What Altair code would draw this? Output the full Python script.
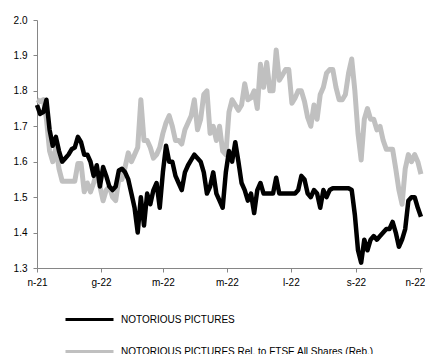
import altair as alt
import pandas as pd

START = "2021-11-01"
STEP = "3D"
SERIES = ["NOTORIOUS PICTURES", "NOTORIOUS PICTURES Rel. to FTSE All Shares (Reb.)"]
COLORS = ["#000000", "#c0c0c0"]

PRICE = [
    1.76, 1.735, 1.74, 1.775, 1.69, 1.645, 1.67, 1.63, 1.60, 1.61,
    1.62, 1.635, 1.64, 1.67, 1.655, 1.62, 1.62, 1.60, 1.56, 1.59,
    1.53, 1.585, 1.56, 1.53, 1.52, 1.53, 1.575, 1.58, 1.57, 1.55,
    1.51, 1.47, 1.40, 1.50, 1.42, 1.51, 1.48, 1.52, 1.54, 1.47,
    1.57, 1.645, 1.60, 1.60, 1.56, 1.54, 1.52, 1.57, 1.59, 1.605,
    1.62, 1.61, 1.60, 1.57, 1.51, 1.53, 1.57, 1.51, 1.49, 1.47,
    1.57, 1.63, 1.60, 1.655, 1.60, 1.54, 1.52, 1.49, 1.51, 1.455,
    1.52, 1.54, 1.51, 1.51, 1.51, 1.51, 1.555, 1.51, 1.51, 1.51,
    1.51, 1.51, 1.51, 1.52, 1.56, 1.55, 1.51, 1.50, 1.52, 1.51,
    1.47, 1.52, 1.50, 1.52, 1.525, 1.525, 1.525, 1.525, 1.525, 1.525,
    1.52, 1.45, 1.35, 1.315, 1.38, 1.35, 1.38, 1.39, 1.38, 1.39,
    1.40, 1.41, 1.41, 1.43, 1.40, 1.36, 1.38, 1.41, 1.49, 1.50,
    1.50, 1.47, 1.445,
]

REL = [
    1.775, 1.77, 1.775, 1.72, 1.63, 1.60, 1.64, 1.58, 1.545, 1.545,
    1.545, 1.545, 1.545, 1.595, 1.595, 1.515, 1.54, 1.515, 1.54, 1.57,
    1.53, 1.49, 1.52, 1.53, 1.50, 1.49, 1.55, 1.55, 1.585, 1.625,
    1.60, 1.62, 1.64, 1.775, 1.66, 1.66, 1.64, 1.61, 1.62, 1.64,
    1.68, 1.71, 1.73, 1.70, 1.66, 1.66, 1.65, 1.69, 1.71, 1.73,
    1.775, 1.69, 1.72, 1.79, 1.80, 1.68, 1.70, 1.66, 1.70, 1.63,
    1.62, 1.74, 1.775, 1.76, 1.745, 1.76, 1.82, 1.775, 1.78, 1.80,
    1.75, 1.875, 1.81, 1.88, 1.80, 1.80, 1.915, 1.83, 1.845, 1.86,
    1.86, 1.765, 1.78, 1.80, 1.80, 1.77, 1.725, 1.70, 1.76, 1.72,
    1.79, 1.81, 1.85, 1.86, 1.86, 1.81, 1.775, 1.775, 1.79, 1.85,
    1.89, 1.80, 1.68, 1.605, 1.72, 1.75, 1.72, 1.72, 1.69, 1.70,
    1.66, 1.635, 1.635, 1.635, 1.58, 1.52, 1.48, 1.58, 1.62, 1.60,
    1.62, 1.60, 1.565,
]

Y_TICKS = [1.3, 1.4, 1.5, 1.6, 1.7, 1.8, 1.9, 2.0]
X_TICKS = [(2021, 11), (2022, 1), (2022, 3), (2022, 5), (2022, 7), (2022, 9), (2022, 11)]
MONTH_ABBR = ["g", "f", "m", "a", "m", "g", "l", "a", "s", "o", "n", "d"]

dates = pd.date_range(START, periods=len(PRICE), freq=STEP)
df = pd.concat([
    pd.DataFrame({"date": dates, "value": PRICE, "series": SERIES[0]}),
    pd.DataFrame({"date": dates, "value": REL, "series": SERIES[1]}),
])

month_arr = "[" + ",".join(f"'{m}'" for m in MONTH_ABBR) + "]"
label_expr = month_arr + "[month(datum.value)] + '-' + timeFormat(datum.value, '%y')"
last_tick = "year(datum.value) == 2022 && month(datum.value) == 10"

base = alt.Chart(df).encode(
    x=alt.X(
        "date:T",
        scale=alt.Scale(domain=[alt.DateTime(year=2021, month=11, date=1),
                                alt.DateTime(year=2022, month=11, date=3)]),
        axis=alt.Axis(
            values=[alt.DateTime(year=y, month=m, date=1) for y, m in X_TICKS],
            labelExpr=label_expr, title=None, grid=False, tickSize=4,
            labelPadding=5, labelAngle=0,
            labelAlign={"condition": {"test": last_tick, "value": "right"}, "value": "center"},
            labelOffset={"condition": {"test": last_tick, "value": 5}, "value": 0},
        ),
    ),
    y=alt.Y(
        "value:Q",
        scale=alt.Scale(domain=[1.3, 2.0], nice=False, zero=False),
        axis=alt.Axis(values=Y_TICKS, format=".1f", title=None, grid=False,
                      tickSize=4, labelPadding=6),
    ),
    color=alt.Color(
        "series:N",
        scale=alt.Scale(domain=SERIES, range=COLORS),
        legend=alt.Legend(
            title=None, orient="none", legendX=27, legendY=274,
            direction="vertical", symbolType="stroke", symbolSize=2304,
            symbolStrokeWidth=3, labelFont="Liberation Sans", labelFontSize=10,
            labelColor="#000000", labelOffset=6, labelLimit=400,
            rowPadding=0, padding=0,
        ),
    ),
)

grey = base.mark_line(strokeWidth=5, strokeJoin="round").transform_filter(
    alt.datum.series == SERIES[1])
black = base.mark_line(strokeWidth=4.5, strokeJoin="round").transform_filter(
    alt.datum.series == SERIES[0])

chart = alt.layer(grey, black).properties(
    width=385, height=248,
    autosize=alt.AutoSizeParams(type="none"),
    padding={"left": 29, "top": 12, "right": 3, "bottom": 100},
    background="#ffffff",
).configure_axis(
    domainColor="#868686", tickColor="#868686", labelColor="#000000",
    labelFont="Liberation Sans", labelFontSize=10, domainWidth=1, tickWidth=1,
).configure_view(strokeWidth=0)

chart.save("out.html", embed_options={"renderer": "svg", "actions": False})
